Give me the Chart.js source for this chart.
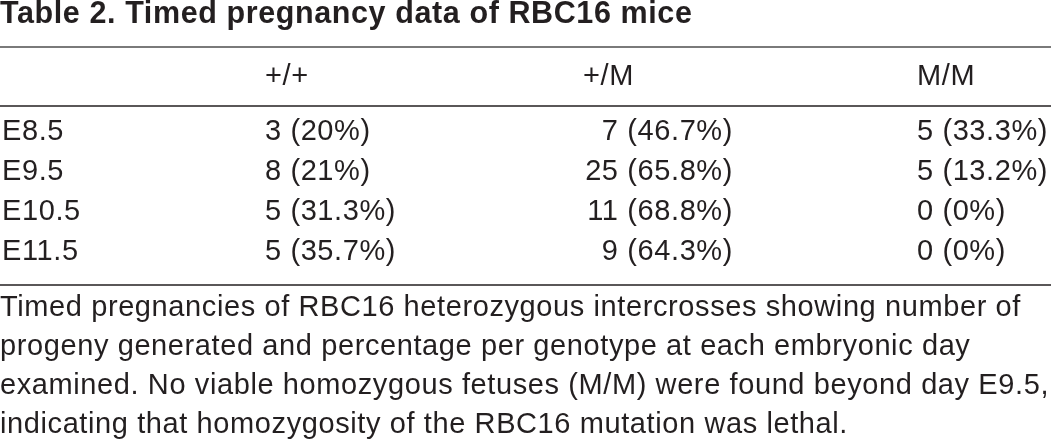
<!DOCTYPE html>
<html>
<head>
<meta charset="utf-8">
<script src="https://cdn.jsdelivr.net/npm/chart.js@4/dist/chart.umd.min.js"></script>
<style>
  html, body { margin: 0; padding: 0; background: #fff; }
  #wrap { width: 1051px; height: 444px; position: relative; }
</style>
</head>
<body>
<div id="wrap"><canvas id="tableChart"></canvas></div>
<script>
// --- Table data ---
const stages = ['E8.5', 'E9.5', 'E10.5', 'E11.5'];
const genotypes = ['+/+', '+/M', 'M/M'];
const countWT = [3, 8, 5, 5];
const pctWT = [20, 21, 31.3, 35.7];
const countHet = [7, 25, 11, 9];
const pctHet = [46.7, 65.8, 68.8, 64.3];
const countHom = [5, 5, 0, 0];
const pctHom = [33.3, 13.2, 0, 0];

const titleText = 'Table 2. Timed pregnancy data of RBC16 mice';
const captionLines = [
    'Timed pregnancies of RBC16 heterozygous intercrosses showing number of',
    'progeny generated and percentage per genotype at each embryonic day',
    'examined. No viable homozygous fetuses (M/M) were found beyond day E9.5,',
    'indicating that homozygosity of the RBC16 mutation was lethal.'
];

const INK = '#231f20';
const FONT = '"Liberation Sans", Arial, Helvetica, sans-serif';
const BODY_SIZE = 29;
const TRACKING = '0.6px';

// column layout: where each column's text is anchored on the x scale
const columnLayout = [
    { x: 2, align: 'left', headX: 2 },
    { x: 265, align: 'left', headX: 265 },
    { x: 733, align: 'right', headX: 583 },
    { x: 917, align: 'left', headX: 917 }
];

const cell = (counts, pcts) => counts.map((c, i) => `${c} (${pcts[i]}%)`);
const columnTexts = [stages, cell(countWT, pctWT), cell(countHet, pctHet), cell(countHom, pctHom)];

const datasets = columnTexts.map((texts, col) => ({
    label: col === 0 ? 'stage' : genotypes[col - 1],
    data: texts.map((t, i) => ({ x: columnLayout[col].x, y: i })),
    cellText: texts,
    align: columnLayout[col].align,
    pointRadius: 0,
    pointHoverRadius: 0,
    showLine: false
}));

// draws the rules, the header row and every cell text at its point
const tablePlugin = {
    id: 'tablePlugin',
    beforeDraw(chart) {
        // slightly wider letter spacing, like the printed typeface
        chart.ctx.letterSpacing = TRACKING;
    },
    afterDatasetsDraw(chart) {
        const { ctx, chartArea, scales } = chart;
        const xs = scales.x;
        ctx.save();

        // horizontal rules
        const rule = (y, color, w) => {
            ctx.beginPath();
            ctx.strokeStyle = color;
            ctx.lineWidth = w;
            ctx.moveTo(0, y);
            ctx.lineTo(chart.width, y);
            ctx.stroke();
        };
        rule(chartArea.top - 65, '#7a7a7a', 2);
        rule(chartArea.top - 6, INK, 1.6);
        rule(chartArea.bottom + 13, INK, 1.6);

        ctx.fillStyle = INK;
        ctx.font = `${BODY_SIZE}px ${FONT}`;
        ctx.textBaseline = 'alphabetic';

        // header row
        genotypes.forEach((g, i) => {
            const col = columnLayout[i + 1];
            ctx.textAlign = 'left';
            ctx.fillText(g, xs.getPixelForValue(col.headX), chartArea.top - 27);
        });

        // cells
        ctx.textBaseline = 'middle';
        chart.data.datasets.forEach((ds, di) => {
            const meta = chart.getDatasetMeta(di);
            ctx.textAlign = ds.align;
            meta.data.forEach((pt, i) => {
                ctx.fillText(ds.cellText[i], pt.x, pt.y);
            });
        });
        ctx.restore();
    }
};

document.addEventListener('DOMContentLoaded', () => {
    const ctx = document.getElementById('tableChart').getContext('2d');
    new Chart(ctx, {
        type: 'scatter',
        data: { datasets: datasets },
        options: {
            responsive: true,
            maintainAspectRatio: false,
            animation: false,
            events: [],
            layout: { padding: 0 },
            scales: {
                x: { type: 'linear', min: 0, max: 1051, display: false },
                y: { type: 'category', labels: stages, offset: true, display: false }
            },
            plugins: {
                legend: { display: false },
                tooltip: { enabled: false },
                title: {
                    display: true,
                    text: titleText,
                    align: 'start',
                    color: INK,
                    font: { family: FONT, size: 30.5, weight: 'bold', lineHeight: '30px' },
                    padding: { top: 0, bottom: 82 }
                },
                subtitle: {
                    display: true,
                    position: 'bottom',
                    text: captionLines,
                    align: 'start',
                    color: INK,
                    font: { family: FONT, size: BODY_SIZE, weight: 'normal', lineHeight: '39px' },
                    padding: { top: 16, bottom: 0 }
                }
            }
        },
        plugins: [tablePlugin]
    });
});
</script>
</body>
</html>
